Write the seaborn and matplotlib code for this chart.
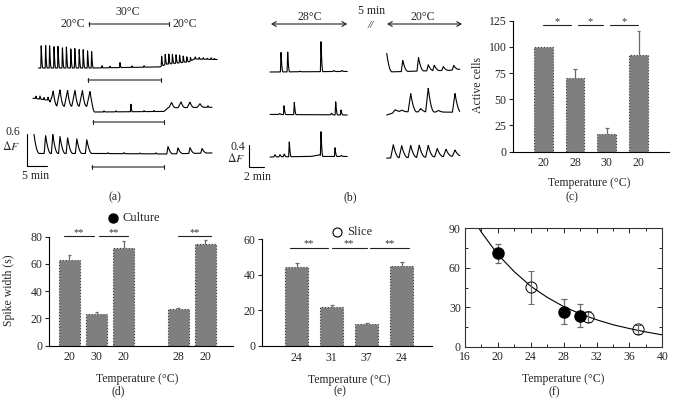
import numpy as np
import matplotlib
matplotlib.use('Agg')
import matplotlib.pyplot as plt
import seaborn as sns

sns.set_style('ticks')
plt.rcParams['font.family'] = ['Liberation Serif', 'DejaVu Serif']
plt.rcParams['mathtext.fontset'] = 'stix'
plt.rcParams['font.size'] = 8.5

#############################################################
# data
# (a) calcium traces, culture: time in min, dF above each row baseline
a1_level_t = [9.6, 23.0, 40.0, 41.5, 47.5, 48.5, 54.3]
a1_level_y = [0.0, 0.0, 0.02, 0.07, 0.12, 0.17, 0.16]
a1_peaks = [10.3, 11.4, 12.4, 13.5, 14.5, 15.6, 16.6, 17.7, 18.7, 19.8, 20.8, 21.9, 22.9]
a1_amps = [0.45, 0.45, 0.44, 0.43, 0.42, 0.41, 0.40, 0.38, 0.37, 0.36, 0.35, 0.33, 0.32]
a1_late_peaks = [40.4, 41.3, 42.2, 43.1, 44.0, 44.9, 45.8, 46.7, 47.6]
a1_late_amps = [0.20, 0.20, 0.19, 0.18, 0.17, 0.15, 0.12, 0.10, 0.08]
a1_small_peaks = [25.5, 27.5, 30.0, 33.0, 36.0, 48.8, 49.8, 50.8, 51.8, 52.8, 53.6]
a1_small_amps = [0.04, 0.03, 0.10, 0.03, 0.03, 0.04, 0.03, 0.03, 0.02, 0.03, 0.02]

a2_level_t = [8.25, 12.3, 13.0, 22.8, 23.6, 41.0, 42.0, 53.0]
a2_level_y = [0.26, 0.22, 0.11, 0.11, 0.0, 0.01, 0.08, 0.09]
a2_peaks = [13.3, 15.0, 16.9, 18.75, 20.6, 22.5]
a2_amps = [0.29, 0.31, 0.30, 0.30, 0.30, 0.28]
a2_late_peaks = [42.9, 45.25, 47.5, 50.0]
a2_late_amps = [0.10, 0.11, 0.10, 0.07]
a2_small_peaks = [9.0, 10.0, 11.0, 12.0, 26.0, 29.0, 32.75, 36.0, 38.5, 52.0]
a2_small_amps = [0.05, 0.06, 0.04, 0.06, 0.02, 0.02, 0.15, 0.02, 0.02, 0.03]

a3_level_t = [8.5, 22.5, 41.5, 53.0]
a3_level_y = [0.01, 0.01, 0.0, 0.02]
a3_peaks = [8.5, 11.4, 13.2, 15.0, 16.9, 19.2, 21.7]
a3_amps = [0.36, 0.34, 0.36, 0.32, 0.30, 0.28, 0.26]
a3_late_peaks = [42.0, 44.5, 47.5, 50.5]
a3_late_amps = [0.14, 0.11, 0.11, 0.09]
a3_small_peaks = [27.0, 31.0, 35.0, 39.0]
a3_small_amps = [0.015, 0.02, 0.015, 0.02]

a_heat_top = (22.25, 42.25)
a_heat_rows = [(22.0, 40.25), (23.25, 41.0), (23.0, 41.0)]

# (b) calcium traces, slice: 28C segment then 20C segment
b1L_level_t = [0.0, 10.3]
b1L_level_y = [0.0, 0.01]
b1L_peaks = [1.47, 2.36, 6.8]
b1L_amps = [0.36, 0.36, 0.55]
b1L_small_peaks = [4.0, 8.5, 9.6]
b1L_small_amps = [0.01, 0.02, 0.02]

b2L_level_t = [0.0, 10.3]
b2L_level_y = [0.01, 0.0]
b2L_peaks = [1.87, 3.24, 8.76, 9.47]
b2L_amps = [0.16, 0.22, 0.24, 0.09]
b2L_small_peaks = [1.3, 8.2]
b2L_small_amps = [0.02, 0.03]

b3L_level_t = [0.0, 5.5, 6.6, 7.0, 10.3]
b3L_level_y = [0.0, 0.01, 0.04, 0.01, 0.01]
b3L_peaks = [2.57, 6.8, 8.67]
b3L_amps = [0.27, 0.44, 0.16]
b3L_small_peaks = [0.67, 1.33, 1.9, 9.5]
b3L_small_amps = [0.04, 0.04, 0.05, 0.02]

b1R_level_t = [15.56, 20.5, 24.0, 25.3]
b1R_level_y = [0.0, 0.02, 0.03, 0.05]
b1R_peaks = [15.56, 17.7, 19.8, 21.1, 21.9, 23.1, 24.5]
b1R_amps = [0.34, 0.20, 0.245, 0.11, 0.10, 0.07, 0.08]

b2R_level_t = [15.56, 17.0, 25.3]
b2R_level_y = [0.0, 0.06, 0.05]
b2R_peaks = [16.67, 17.56, 18.76, 20.1, 21.1, 22.44, 24.67]
b2R_amps = [0.05, 0.03, 0.33, 0.06, 0.43, 0.03, 0.34]

b3R_level_t = [15.56, 21.5, 25.3]
b3R_level_y = [-0.02, 0.0, 0.02]
b3R_peaks = [16.44, 17.56, 18.76, 19.9, 21.1, 22.3, 23.47, 24.67]
b3R_amps = [0.24, 0.22, 0.22, 0.22, 0.21, 0.15, 0.13, 0.11]

# (c) active cells
c_labels = ['20', '28', '30', '20']
c_pos = [0, 1, 2, 3]
c_vals = [100, 70, 17, 92]
c_errs = [0, 8.5, 6, 23]

# (d) spike width, culture
d_labels = ['20', '30', '20', '28', '20']
d_pos = [0, 1, 2, 4, 5]
d_vals = [63, 23, 72, 27, 75]
d_errs = [3.5, 2.0, 4.6, 1.0, 2.5]

# (e) spike width, slice
e_labels = ['24', '31', '37', '24']
e_pos = [0, 1, 2, 3]
e_vals = [44.6, 22.1, 12.4, 45.0]
e_errs = [1.9, 0.8, 0.7, 2.5]

# (f) spike width vs temperature
culture_t = [20, 28, 30]
culture_w = [71, 26.6, 23.6]
culture_err = [7, 9.7, 8.7]
slice_t = [24, 31, 37]
slice_w = [45.1, 22.6, 13.2]
slice_err = [12.3, 4.2, 3.2]
fit_t = [17.7, 18, 20, 22, 24, 26, 28, 30, 32, 34, 36, 38, 40]
fit_w = [90, 87, 70, 57, 46, 37.5, 30.5, 25, 20.5, 16.7, 13.8, 11.2, 9.0]
#############################################################

GRAY = '#7f7f7f'
ERR = '#6a6a6a'
W, H = 676, 405


def px_axes(x0, y0, x1, y1):
    # axes placed by pixel box of the reference
    return fig.add_axes([x0 / W, 1 - y1 / H, (x1 - x0) / W, (y1 - y0) / H])


def kernels(t, peaks, amps, rise, decay):
    y = np.zeros_like(t)
    for p, a in zip(peaks, amps):
        up = (t >= p - rise) & (t <= p)
        y[up] += a * (t[up] - (p - rise)) / rise
        dn = (t > p) & (t <= p + decay)
        y[dn] += a * (1 - (t[dn] - p) / decay) ** 2
    return y


def trace(ax, base, lt, ly, sets):
    t = np.linspace(lt[0], lt[-1], 2000)
    y = np.interp(t, lt, ly)
    for peaks, amps, rise, decay in sets:
        y += kernels(t, np.array(peaks), np.array(amps), rise, decay)
    ax.plot(t, base + y, color='black', lw=0.8)


def bracket(ax, x0, x1, y):
    ax.annotate('', xy=(x1, y), xytext=(x0, y),
                arrowprops=dict(arrowstyle='|-|, widthA=0.15, widthB=0.15',
                                lw=0.8, color='#222222', shrinkA=0, shrinkB=0))


fig = plt.figure(figsize=(6.76, 4.05), dpi=100)

# ---------------- (a)
ax = px_axes(0, 0, 240, 205)
ax.set_xlim(0, 60)
ax.set_ylim(-205 / 53, 0)
ax.axis('off')
rows_a = [-68 / 53, -112 / 53, -154 / 53]
trace(ax, rows_a[0], a1_level_t, a1_level_y,
      [(a1_peaks, a1_amps, 0.1, 0.4), (a1_late_peaks, a1_late_amps, 0.1, 0.4),
       (a1_small_peaks, a1_small_amps, 0.1, 0.3)])
trace(ax, rows_a[1], a2_level_t, a2_level_y,
      [(a2_peaks, a2_amps, 0.8, 1.0), (a2_late_peaks, a2_late_amps, 0.7, 1.0),
       (a2_small_peaks, a2_small_amps, 0.15, 0.3)])
trace(ax, rows_a[2], a3_level_t, a3_level_y,
      [(a3_peaks, a3_amps, 0.35, 1.3), (a3_late_peaks, a3_late_amps, 0.3, 1.2),
       (a3_small_peaks, a3_small_amps, 0.2, 0.4)])
bracket(ax, a_heat_top[0], a_heat_top[1], -24 / 53)
for (h0, h1), yb in zip(a_heat_rows, [-80 / 53, -122 / 53, -167 / 53]):
    bracket(ax, h0, h1, yb)
ax.text(18.25, -24 / 53, '20°C', ha='center', va='center')
ax.text(32.0, -12 / 53, '30°C', ha='center', va='center')
ax.text(46.25, -24 / 53, '20°C', ha='center', va='center')
ax.plot([6.7, 6.7, 11.7], [-3.126 + 0.6, -3.126, -3.126], color='black', lw=0.8)
ax.text(5.0, -132 / 53, '0.6', ha='right', va='center')
ax.text(5.0, -146 / 53, r'$\Delta F$', ha='right', va='center')
ax.text(9.0, -176 / 53, '5 min', ha='center', va='center')
ax.text(28.75, -197 / 53, '(a)', ha='center', va='center')

# ---------------- (b)
ax = px_axes(228, 0, 468, 205)
ax.set_xlim(-5.6, 26.4)
ax.set_ylim(-205 / 55, 0)
ax.axis('off')
rows_b = [-72 / 55, -115 / 55, -157 / 55]
trace(ax, rows_b[0], b1L_level_t, b1L_level_y,
      [(b1L_peaks, b1L_amps, 0.08, 0.25), (b1L_small_peaks, b1L_small_amps, 0.15, 0.3)])
trace(ax, rows_b[1], b2L_level_t, b2L_level_y,
      [(b2L_peaks, b2L_amps, 0.08, 0.25), (b2L_small_peaks, b2L_small_amps, 0.15, 0.3)])
trace(ax, rows_b[2], b3L_level_t, b3L_level_y,
      [(b3L_peaks, b3L_amps, 0.08, 0.25), (b3L_small_peaks, b3L_small_amps, 0.15, 0.3)])
trace(ax, rows_b[0], b1R_level_t, b1R_level_y, [(b1R_peaks, b1R_amps, 0.2, 0.7)])
trace(ax, rows_b[1], b2R_level_t, b2R_level_y, [(b2R_peaks, b2R_amps, 0.35, 0.8)])
trace(ax, rows_b[2], b3R_level_t, b3R_level_y, [(b3R_peaks, b3R_amps, 0.35, 0.8)])
for x0, x1 in [(0.13, 10.3), (15.6, 25.6)]:
    ax.annotate('', xy=(x1, -24 / 55), xytext=(x0, -24 / 55),
                arrowprops=dict(arrowstyle='<->, head_length=0.35, head_width=0.2',
                                lw=0.8, color='#222222', shrinkA=0, shrinkB=0))
ax.text(5.33, -17 / 55, '28°C', ha='center', va='center')
ax.text(20.4, -17 / 55, '20°C', ha='center', va='center')
ax.text(13.5, -11 / 55, '5 min', ha='center', va='center')
ax.text(13.4, -25 / 55, '//', ha='center', va='center', fontsize=8, style='italic')
ax.plot([-2.8, -2.8, -0.8], [-3.036 + 0.4, -3.036, -3.036], color='black', lw=0.8)
ax.text(-3.33, -147 / 55, '0.4', ha='right', va='center')
ax.text(-3.33, -158 / 55, r'$\Delta F$', ha='right', va='center')
ax.text(-1.73, -177 / 55, '2 min', ha='center', va='center')
ax.text(10.67, -197 / 55, '(b)', ha='center', va='center')


# ---------------- bar panels
def bars(ax, pos, vals, errs, width):
    sns.barplot(x=pos, y=vals, native_scale=True, orient='x', width=width,
                color=GRAY, saturation=1, errorbar=None, edgecolor='#3a3a3a',
                linewidth=0.8, linestyle=':', ax=ax)
    pos = np.array(pos, float)
    vals = np.array(vals, float)
    errs = np.array(errs, float)
    m = errs > 0
    ax.vlines(pos[m], vals[m], vals[m] + errs[m], color=ERR, lw=0.9, zorder=3)
    ax.hlines(vals[m] + errs[m], pos[m] - 0.06, pos[m] + 0.06, color=ERR, lw=0.9, zorder=3)
    sns.despine(ax=ax)
    for s in ['left', 'bottom']:
        ax.spines[s].set_linewidth(0.8)
        ax.spines[s].set_color('black')
    ax.tick_params(axis='y', length=3, width=0.8, direction='out', pad=2)
    ax.tick_params(axis='x', length=0, pad=4)


def sig(ax, spans, y, label, ylab):
    for x0, x1 in spans:
        ax.plot([x0, x1], [y, y], color='#222222', lw=0.8, clip_on=False)
        ax.text((x0 + x1) / 2, ylab, label, ha='center', va='center',
                fontsize=7.5, color='#333333', clip_on=False)


# (c)
ax = px_axes(513.3, 20.7, 669.3, 151.7)
bars(ax, c_pos, c_vals, c_errs, 0.59)
ax.set_xlim(-0.95, 3.97)
ax.set_ylim(0, 125)
ax.set_yticks([0, 25, 50, 75, 100, 125])
ax.set_xticks(c_pos)
ax.set_xticklabels(c_labels)
ax.set_ylabel('Active cells')
ax.yaxis.set_label_coords(-0.19, 0.51)
ax.set_xlabel('Temperature (°C)')
ax.xaxis.set_label_coords(0.485, -0.19)
sig(ax, [(0, 0.87), (1.1, 1.87), (2.1, 2.97)], 121, '*', 124.5)

# (d)
ax = px_axes(49.3, 236.7, 233, 345.7)
bars(ax, d_pos, d_vals, d_errs, 0.78)
ax.set_xlim(-0.74, 6.02)
ax.set_ylim(0, 80)
ax.set_yticks([0, 20, 40, 60, 80])
ax.set_xticks(d_pos)
ax.set_xticklabels(d_labels)
ax.set_ylabel('Spike width (s)')
ax.yaxis.set_label_coords(-0.187, 0.51)
ax.set_xlabel('Temperature (°C)')
ax.xaxis.set_label_coords(0.48, -0.25)
sig(ax, [(-0.2, 0.91), (1.1, 2.17), (4.0, 5.22)], 80.6, '**', 83.2)
ax.plot([0.347], [1.169], transform=ax.transAxes, marker='o', ms=6.5,
        color='black', clip_on=False)
ax.text(0.40, 1.169, 'Culture', transform=ax.transAxes, ha='left', va='center',
        fontsize=9)

# (e)
ax = px_axes(262.3, 239.3, 431.7, 346)
bars(ax, e_pos, e_vals, e_errs, 0.64)
ax.set_xlim(-0.98, 3.86)
ax.set_ylim(0, 60)
ax.set_yticks([0, 20, 40, 60])
ax.set_xticks(e_pos)
ax.set_xticklabels(e_labels)
ax.set_xlabel('Temperature (°C)')
ax.xaxis.set_label_coords(0.51, -0.26)
sig(ax, [(-0.19, 0.9), (1.0, 2.0), (2.1, 3.2)], 55, '**', 57.8)
ax.plot([0.443], [1.071], transform=ax.transAxes, marker='o', ms=6.5,
        mfc='none', mec='black', mew=0.8, clip_on=False)
ax.text(0.50, 1.071, 'Slice', transform=ax.transAxes, ha='left', va='center',
        fontsize=9)

# (f)
ax = px_axes(465, 228.3, 662.3, 346.7)
sns.lineplot(x=fit_t, y=fit_w, color='black', lw=0.8, ax=ax)
ax.errorbar(culture_t, culture_w, yerr=culture_err, fmt='o', ms=8, mfc='black',
            mec='black', ecolor=ERR, elinewidth=0.9, capsize=2, capthick=0.9, zorder=3)
ax.errorbar(slice_t, slice_w, yerr=slice_err, fmt='o', ms=8, mfc='none',
            mec='black', mew=0.7, ecolor=ERR, elinewidth=0.9, capsize=2,
            capthick=0.9, zorder=3)
ax.set_xlim(16, 40)
ax.set_ylim(0, 90)
ax.set_xticks([16, 20, 24, 28, 32, 36, 40])
ax.set_xticks(np.arange(16, 41, 2), minor=True)
ax.set_yticks([0, 30, 60, 90])
ax.set_yticks([15, 45, 75], minor=True)
ax.tick_params(which='both', direction='in', top=True, right=True, width=0.7, pad=3)
ax.tick_params(which='major', length=3.5)
ax.tick_params(which='minor', length=2)
for s in ax.spines.values():
    s.set_linewidth(0.8)
    s.set_color('#333333')
ax.set_xlabel('Temperature (°C)')
ax.xaxis.set_label_coords(0.5, -0.22)
ax.set_ylabel('')

fig.text(572 / W, 1 - 197 / H, '(c)', ha='center', va='center')
fig.text(118 / W, 1 - 391 / H, '(d)', ha='center', va='center')
fig.text(340 / W, 1 - 391 / H, '(e)', ha='center', va='center')
fig.text(554 / W, 1 - 392 / H, '(f)', ha='center', va='center')

fig.savefig('out.png', dpi=100)
